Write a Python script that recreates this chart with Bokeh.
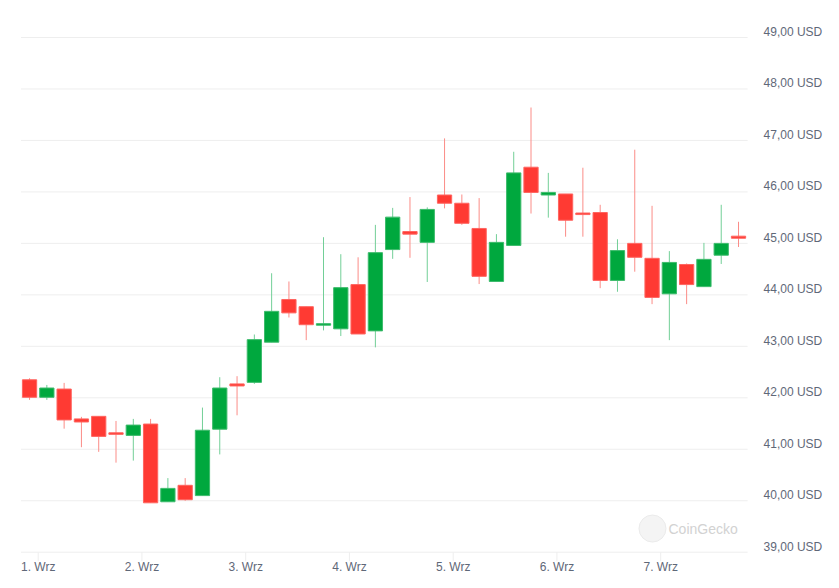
from bokeh.plotting import figure
from bokeh.models import Range1d, ColumnDataSource, Label
from bokeh.embed import file_html
from bokeh.resources import INLINE
from bokeh.core.properties import value

# candle times: hours after 1 Sep 00:00 (4-hour candles)
hours = [-2, 2, 6, 10, 14, 18, 22, 26, 30, 34, 38, 42, 46, 50, 54, 58, 62, 66, 70, 74, 78,
         82, 86, 90, 94, 98, 102, 106, 110, 114, 118, 122, 126, 130, 134, 138, 142, 146, 150, 154, 158, 162]
opens = [42.35, 42.01, 42.17, 41.59, 41.64, 41.32, 41.27, 41.49, 39.98, 40.30, 40.10, 41.39, 42.27, 42.30,
         43.08, 43.91, 43.77, 43.41, 43.34, 44.20, 43.30, 44.88, 45.23, 45.02, 45.94, 45.78, 45.29, 44.26,
         44.96, 46.48, 45.94, 45.96, 45.59, 45.60, 44.28, 45.00, 44.71, 44.02, 44.59, 44.16, 44.77, 45.14]
highs = [42.38, 42.25, 42.29, 41.63, 41.64, 41.55, 41.59, 41.59, 40.44, 40.44, 41.81, 42.40, 42.42, 43.23,
         44.42, 44.26, 43.77, 45.12, 44.79, 44.73, 45.36, 45.69, 45.90, 45.70, 47.04, 45.95, 45.88, 45.18,
         46.78, 47.64, 46.37, 45.96, 46.47, 45.75, 45.08, 46.82, 45.73, 44.85, 44.61, 45.01, 45.75, 45.42]
lows = [41.96, 41.96, 41.40, 41.04, 40.95, 40.74, 40.78, 39.96, 39.98, 40.00, 40.10, 40.90, 41.66, 42.27,
        43.08, 43.56, 43.12, 43.31, 43.20, 43.24, 42.98, 44.70, 44.72, 44.25, 45.68, 45.36, 44.21, 44.26,
        44.96, 45.58, 45.50, 45.13, 45.13, 44.13, 44.06, 44.45, 43.82, 43.12, 43.82, 44.16, 44.60, 44.93]
closes = [42.01, 42.19, 41.57, 41.53, 41.25, 41.29, 41.47, 39.96, 40.24, 40.02, 41.37, 42.19, 42.23, 43.13,
          43.68, 43.65, 43.42, 43.44, 44.14, 43.24, 44.82, 45.51, 45.18, 45.66, 45.78, 45.39, 44.36, 45.02,
          46.37, 45.99, 45.99, 45.45, 45.56, 44.28, 44.86, 44.73, 43.95, 44.63, 44.20, 44.69, 45.00, 45.10]

x_ticks = [0, 24, 48, 72, 96, 120, 144]
x_labels = ["1. Wrz", "2. Wrz", "3. Wrz", "4. Wrz", "5. Wrz", "6. Wrz", "7. Wrz"]
y_ticks = [39, 40, 41, 42, 43, 44, 45, 46, 47, 48, 49]
y_labels = ["39,00 USD", "40,00 USD", "41,00 USD", "42,00 USD", "43,00 USD", "44,00 USD",
            "45,00 USD", "46,00 USD", "47,00 USD", "48,00 USD", "49,00 USD"]

UP_FILL, UP_LINE, UP_WICK = "#00a83e", "#3dbb6c", "#72cf97"
DN_FILL, DN_LINE, DN_WICK = "#ff3a33", "#ff6560", "#fb8c87"
FONT = "Liberation Sans"
LABEL_COLOR = "#5f6878"
GRID_COLOR = "#eeeeee"

up = [c >= o for o, c in zip(opens, closes)]
src = ColumnDataSource(dict(
    x=hours, o=opens, h=highs, l=lows, c=closes,
    top=[max(o, c) for o, c in zip(opens, closes)],
    bottom=[min(o, c) for o, c in zip(opens, closes)],
    fill=[UP_FILL if u else DN_FILL for u in up],
    line=[UP_LINE if u else DN_LINE for u in up],
    wick=[UP_WICK if u else DN_WICK for u in up],
))

# frame spans the whole canvas; ranges chosen so that the scale matches the original layout
X0, X1 = -8.72, 185.36
Y0, Y1 = 38.295, 49.719
PXY = 51.47  # pixels per USD
GRID_START, GRID_END = -3.98, 164.1
LABEL_X = 167.8
Y_MIN = y_ticks[0]

p = figure(width=839, height=588, x_range=Range1d(X0, X1), y_range=Range1d(Y0, Y1),
           output_backend="svg", toolbar_location=None, x_axis_location=None, y_axis_location=None,
           min_border=0)
p.outline_line_color = None
p.xgrid.visible = False
p.ygrid.visible = False
p.background_fill_color = "white"
p.border_fill_color = "white"

grid_src = ColumnDataSource(dict(x0=[GRID_START] * len(y_ticks), x1=[GRID_END] * len(y_ticks), y=y_ticks,
                                 lx=[LABEL_X] * len(y_ticks), lab=y_labels))
p.segment(x0="x0", y0="y", x1="x1", y1="y", source=grid_src, line_color=GRID_COLOR, line_width=1)
p.text(x="lx", y="y", text="lab", source=grid_src, text_align="left", text_baseline="middle",
       text_font=value(FONT), text_font_size="12px", text_color=LABEL_COLOR, y_offset=-5.5)

# x axis ticks and labels
tick_src = ColumnDataSource(dict(x=x_ticks, y0=[Y_MIN] * len(x_ticks),
                                 y1=[Y_MIN - 9 / PXY] * len(x_ticks),
                                 ly=[Y_MIN - 14.3 / PXY] * len(x_ticks), lab=x_labels))
p.segment(x0="x", y0="y0", x1="x", y1="y1", source=tick_src, line_color=GRID_COLOR, line_width=1)
p.text(x="x", y="ly", text="lab", source=tick_src, text_align="center", text_baseline="middle",
       text_font=value(FONT), text_font_size="12px", text_color=LABEL_COLOR)

# watermark
p.scatter(x=[142.1], y=[39.46], size=27, fill_color="#f4f4f4", line_color="#ebebeb", line_width=1)
p.add_layout(Label(x=145.8, y=39.46, text="CoinGecko", text_baseline="middle", text_align="left",
                   text_color="#d2d2d2", text_font=FONT, text_font_size="14px"))

p.segment(x0="x", y0="h", x1="x", y1="l", source=src, line_color="wick", line_width=1)
p.vbar(x="x", top="top", bottom="bottom", width=3.3, source=src, fill_color="fill", line_color="line",
       line_width=1)

open("out.html", "w").write(file_html(p, INLINE))
